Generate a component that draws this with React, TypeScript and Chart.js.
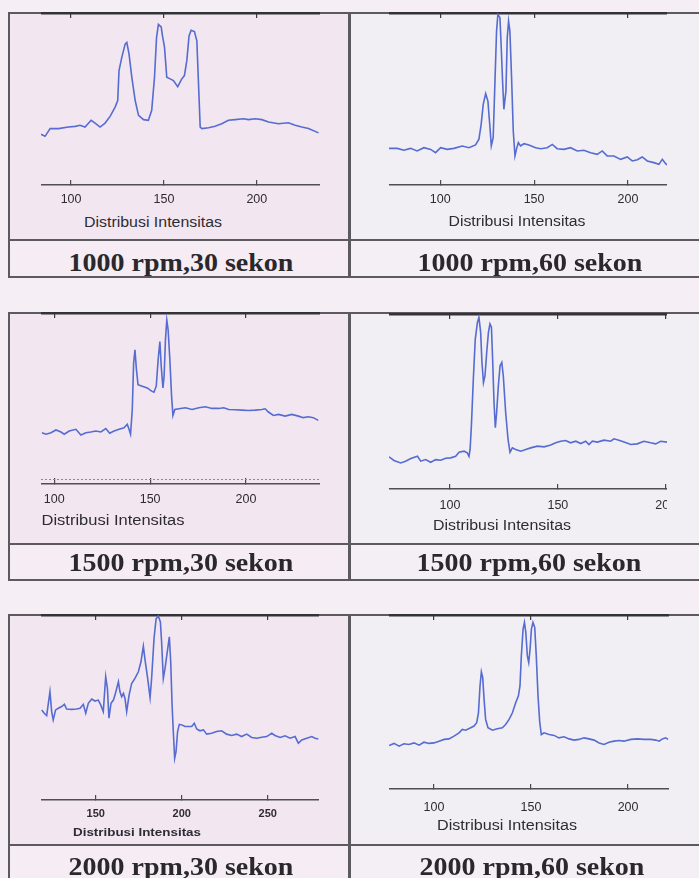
import React, { useEffect, useRef } from "react";
import { Chart, registerables } from "chart.js";
Chart.register(...registerables);

type Pt = [number, number];

// ---------- data ----------
const axisTitle = "Distribusi Intensitas";
const captions = [
  "1000 rpm,30 sekon",
  "1000 rpm,60 sekon",
  "1500 rpm,30 sekon",
  "1500 rpm,60 sekon",
  "2000 rpm,30 sekon",
  "2000 rpm,60 sekon",
];
const ticksMain = [100, 150, 200];
const ticksWide = [150, 200, 250];

const s1000_30: Pt[] = [
  [83.8, 29.5], [86, 28.3], [88.7, 32.8], [93.2, 32.8], [98.6, 33.7], [102.2, 34.1], [104.8, 34.7], [107.5, 33.7],
  [110.8, 37.6], [112.9, 36], [115.6, 33.7], [118.3, 36], [121, 39.9], [123.7, 45.3], [125.1, 49.1], [125.8, 66.5],
  [127.3, 74.2], [129.1, 81.9], [130, 82.9], [131.2, 76.1], [132.7, 62.6], [134.5, 49.1], [136.3, 40.5], [139, 38],
  [141.6, 37.6], [143.4, 43.4], [144.9, 62.6], [146, 85.7], [147, 93.4], [148.5, 91.9], [149.2, 86.7], [150.3, 80],
  [151.5, 62.6], [153.3, 61.7], [155.1, 60.7], [157.4, 57.2], [159.6, 61.7], [161, 63.6], [162.3, 72.3], [163.5, 86.7],
  [164.6, 90], [166.4, 89.2], [167.7, 83.8], [168.6, 58.8], [169.5, 33.7], [170.4, 32.8], [174, 33.3], [177.5, 34.1],
  [181.1, 35.6], [184.7, 37.6], [188.3, 38], [192.8, 38.5], [195.5, 38], [199.1, 38.5], [202.7, 38], [206.3, 36.6],
  [211.6, 35.6], [217, 36.2], [220.6, 34.7], [224.2, 33.7], [227.8, 32.8], [233.2, 30.3],
];

const s1000_60: Pt[] = [
  [72.7, 21.3], [77.1, 21.3], [80.6, 20.2], [84.2, 21.3], [87.7, 19.8], [91.3, 21.7], [94.9, 20.7], [97.5, 18.8],
  [100.2, 21.7], [103.7, 20.7], [107.3, 21.3], [111.7, 22.7], [115.3, 21.7], [118.8, 23.3], [120.6, 26.6], [121.8, 35.3],
  [122.9, 46.9], [124.2, 53.1], [125.4, 48.8], [126.5, 33.3], [127.2, 22.7], [128.2, 27.5], [129.1, 58.5], [130, 89.5],
  [130.7, 99.2], [131.8, 97.3], [132.5, 79.8], [133.2, 60.5], [133.9, 44], [135, 54.7], [135.7, 85.7], [136.4, 95.3],
  [137.1, 89.5], [138, 62.4], [138.9, 31.4], [139.8, 16.9], [140.7, 21.3], [141.6, 24.6], [142.8, 22.7], [144.6, 24],
  [147.2, 23.3], [150.8, 21.7], [153.5, 21.1], [157, 21.7], [159.7, 23.6], [162.3, 21.1], [165.9, 20.7], [169.4, 21.7],
  [173, 19.8], [176.5, 20.2], [180.1, 18.8], [183.6, 17.8], [186.3, 19.8], [188.9, 16.9], [192.5, 16.9], [196.1, 14.9],
  [199.6, 16.3], [202.3, 14], [205, 14.7], [207.6, 16.3], [210.3, 14], [213.8, 13], [216.5, 12], [218.3, 14.9],
  [220.1, 12.4], [220.8, 11.6],
];

const s1500_30: Pt[] = [
  [93.6, 30], [95.7, 29.1], [98.3, 30], [100.9, 31.6], [103.5, 30.4], [105.2, 29.1], [107.8, 31], [111.3, 32],
  [113.9, 28.7], [116.5, 30], [119.1, 30.4], [121.7, 31], [124.3, 30.4], [126.9, 32.4], [128.9, 29.7], [131.2, 31],
  [133.8, 32], [136.4, 32.9], [138.1, 34.9], [139, 32], [139.8, 29.1], [140.7, 43.6], [141.4, 70.7], [142.1, 78.5],
  [142.8, 67.8], [143.7, 58.1], [145.9, 57.2], [148.5, 56.2], [150.8, 54.3], [152, 53.7], [153.2, 57.2], [154.2, 72.7],
  [155.1, 83.3], [155.8, 68.8], [156.7, 56.2], [157.3, 63], [158, 84.3], [158.7, 95.9], [159.4, 90.1], [160.3, 72.7],
  [161.2, 51.4], [161.9, 40.1], [162.9, 43.6], [165, 44], [168.4, 44.6], [171.9, 43.6], [175.4, 44.6], [178.8, 45.2],
  [182.3, 44.2], [185.8, 44.2], [188.4, 44.6], [191, 43.6], [194.4, 43.4], [197.9, 43.2], [201.4, 43], [204.8, 43.2],
  [208.3, 43.6], [210, 44], [211.7, 42.1], [214.3, 40.1], [217, 40.7], [220.4, 39.7], [223.9, 40.7], [227.3, 39.7],
  [229.9, 38.8], [232.5, 39.3], [235.1, 38.8], [237.7, 37.2],
];

const s1500_60: Pt[] = [
  [71.7, 18.4], [74, 16.3], [77.1, 14.9], [79.4, 15.9], [81.8, 17.4], [84.9, 18.7], [86.4, 15.9], [88.7, 16.8],
  [91, 15.3], [93.4, 16.8], [95.7, 16.4], [98, 17.6], [100.3, 17.8], [102.6, 18.7], [104.2, 21], [106.5, 21.6],
  [108, 20.7], [108.8, 18.7], [109.3, 22.6], [109.9, 36], [110.8, 62.7], [111.7, 85.7], [112.7, 95.2], [113.4, 98.1],
  [114.2, 89.5], [114.8, 72.3], [115.5, 60.8], [116.2, 64.6], [117, 78], [117.8, 89.5], [118.5, 94.3], [119.2, 92.4],
  [119.8, 72.3], [120.4, 49.3], [121, 35], [121.6, 43.6], [122.4, 58.9], [123.2, 70.4], [124, 72.3], [124.7, 64.6],
  [125.8, 43.6], [126.9, 28.3], [127.8, 21], [128.9, 23.5], [130.4, 22.6], [132.8, 21.6], [135.1, 22.6], [137.4, 23.5],
  [140.5, 24.5], [143.6, 24.1], [146.7, 25.1], [149, 26.4], [151.3, 27.3], [153.6, 27.7], [155.9, 26.4], [158.3, 27.3],
  [160.6, 26], [162.9, 27.3], [164.4, 25.4], [166, 27.3], [168.3, 26.8], [171.4, 27.9], [174.5, 27.3], [176, 28.7],
  [178.3, 27.9], [180.7, 26.8], [183.8, 25.4], [186.8, 25.8], [189.9, 27.3], [193, 26.4], [195.3, 25.8], [197.7, 27.3],
  [200.6, 26.8],
];

const s2000_30: Pt[] = [
  [118.6, 48.7], [120.1, 46.9], [121.5, 45.6], [123.4, 58.5], [124.4, 47.8], [125.3, 43.3], [126.7, 48.7], [128.3, 49.6],
  [130.2, 50.5], [131.8, 51.7], [133.1, 49.2], [136, 49], [138.9, 49.2], [140.9, 49.6], [142.8, 51.7], [144.2, 46.9],
  [145.7, 52.3], [147.7, 54.6], [149.6, 53.5], [151.5, 54], [152.9, 51.4], [154.4, 47.8], [155.8, 66.6], [156.8, 60.3],
  [157.7, 44.2], [158.9, 52.3], [160.3, 54], [161.2, 56.7], [162.2, 60.3], [163.2, 63.9], [164.1, 58.5], [165.1, 55.8],
  [166.1, 57.6], [167, 55], [168, 47.8], [169.4, 56.7], [170.9, 63], [172.8, 65.7], [174.8, 69.3], [176.3, 74.7],
  [177.7, 83.1], [178.7, 75.6], [180.2, 65.7], [181.6, 55.3], [182.5, 65.7], [183.9, 87.2], [185.1, 98], [186.4, 99.5],
  [187.6, 96.2], [188.3, 85.5], [189.3, 65.7], [190.3, 71.1], [191.6, 80.1], [192.8, 88.2], [193.6, 74.7], [194.4, 51.4],
  [195.1, 37], [195.9, 22.6], [196.7, 26.2], [197.6, 37], [198.6, 40.9], [200, 40.6], [201.9, 39.7], [203.9, 39.7],
  [205.8, 39.7], [207.3, 41.5], [208.7, 38.4], [210.6, 37.4], [212.6, 37.9], [214.5, 35.6], [217.4, 36.1], [220.3, 37],
  [223.2, 37.4], [226.1, 35.6], [229, 34.9], [231.9, 35.6], [234.8, 34.3], [237.8, 35.6], [240.7, 33.8], [243.6, 33.4],
  [246.5, 33.9], [249.4, 34.3], [252.3, 36.1], [254.2, 34.9], [257.2, 33.8], [260.1, 34.7], [263, 33.4], [265.9, 34.3],
  [267.8, 30.7], [269.8, 32.5], [272.7, 33.4], [275.6, 34.3], [277.5, 33.4], [279.4, 33],
];

const s2000_60: Pt[] = [
  [76.8, 25], [79.4, 26.2], [82, 24.6], [84.5, 26], [87.1, 25.6], [89.7, 26.5], [92.3, 25.2], [94.8, 26.9],
  [97.4, 26.2], [100, 26.5], [102.6, 27.5], [105.2, 28.5], [107.7, 28.8], [110.3, 30.4], [112.9, 32.3], [114.6, 34.2],
  [116.3, 33.8], [118.9, 35.2], [120.6, 36.2], [122, 38.1], [122.9, 43.8], [123.7, 59.2], [124.4, 67.3], [125.1, 64],
  [125.8, 51.5], [126.6, 40], [127.8, 35.2], [130.1, 33.8], [132.6, 34.6], [135.2, 35.2], [136.9, 37.1], [138.7, 40],
  [140.4, 43.8], [142.1, 49.6], [143.5, 53.5], [144.3, 59.2], [145, 76.5], [145.9, 91.9], [146.6, 95.8], [147.3, 90],
  [148.1, 76.5], [148.8, 72.7], [149.5, 80.4], [150.2, 91.9], [151, 95.8], [151.9, 92.9], [152.7, 76.5], [153.6, 53.5],
  [154.5, 38.1], [155.3, 31.3], [156.7, 32.3], [159.3, 31.3], [161.9, 30.8], [164.4, 29.4], [167, 30], [169.6, 28.8],
  [172.2, 28.1], [174.7, 28.5], [177.3, 29.4], [179.9, 28.8], [182.5, 28.1], [185.1, 26.5], [187.6, 25.6], [190.2, 26.9],
  [192.8, 27.5], [195.4, 27.9], [197.9, 27.5], [201.4, 28.5], [204.8, 28.8], [208.2, 28.5], [211.7, 28.5], [214.3, 28.1],
  [216, 27.5], [217.7, 28.8], [219.4, 29.4], [220.6, 28.5],
];

// ---------- layout / style ----------
const SANS = "'Liberation Sans', Arial, sans-serif";
const SERIF = "'Liberation Serif', 'Times New Roman', serif";
const LINE = "#566cd0";
const PAGE_BG = "#f6eef5";
const BOX_LINE = "#5c5a5e";

type PanelCfg = {
  series: Pt[];
  ticks: number[];
  min: number;
  max: number;
  left: number;
  right: number;
  top: number;
  axisY: number;
  tickOffset: number;
  tickSize: number;
  tickBold: boolean;
  tickLen: number;
  guide?: number;
  titleX: number;
  titleY: number;
  titleW: number;
  capX: number;
  capY: number;
  caption: string;
};

const panels: PanelCfg[] = [
  { series: s1000_30, ticks: ticksMain, min: 83.8, max: 234, left: 41, right: 320, top: 13, axisY: 185, tickOffset: 15, tickSize: 12.5, tickBold: false, tickLen: -5, titleX: 152.5, titleY: 221.5, titleW: 138, capX: 180.8, capY: 263.3, caption: captions[0] },
  { series: s1000_60, ticks: ticksMain, min: 72.7, max: 220.8, left: 389, right: 667, top: 13, axisY: 185, tickOffset: 15, tickSize: 12.5, tickBold: false, tickLen: -5, titleX: 517, titleY: 220.7, titleW: 137, capX: 529.8, capY: 263.3, caption: captions[1] },
  { series: s1500_30, ticks: ticksMain, min: 93.1, max: 238.6, left: 41, right: 320, top: 313, axisY: 484, tickOffset: 16, tickSize: 12.5, tickBold: false, tickLen: -6, guide: 2.4, titleX: 113.3, titleY: 520, titleW: 143, capX: 180.8, capY: 563.3, caption: captions[2] },
  { series: s1500_60, ticks: ticksMain, min: 71.7, max: 200.6, left: 389, right: 667, top: 314, axisY: 489, tickOffset: 17, tickSize: 12.5, tickBold: false, tickLen: -5, titleX: 501.5, titleY: 525, titleW: 138, capX: 529.3, capY: 563.3, caption: captions[3] },
  { series: s2000_30, ticks: ticksWide, min: 118.2, max: 279.8, left: 41, right: 319, top: 615, axisY: 800, tickOffset: 14, tickSize: 11, tickBold: true, tickLen: -5, titleX: 137, titleY: 831.7, titleW: 128, capX: 180.8, capY: 866.7, caption: captions[4] },
  { series: s2000_60, ticks: ticksMain, min: 76.8, max: 221.1, left: 389, right: 669, top: 615, axisY: 789, tickOffset: 19, tickSize: 12.5, tickBold: false, tickLen: -5, titleX: 507, titleY: 825, titleW: 140, capX: 531.5, capY: 866.5, caption: captions[5] },
];

const rows = [
  { top: 12, capTop: 240, bottom: 278 },
  { top: 312, capTop: 544, bottom: 581 },
  { top: 614, capTop: 845, bottom: 910 },
];
const cols = [
  { left: 8, width: 342, bg: "#f2e6f1", capBg: "#f5ecf4" },
  { left: 349, width: 400, bg: "#f1eef4", capBg: "#f4eff5" },
];

const PAD_TOP = 3;

function PanelChart({ p }: { p: PanelCfg }) {
  const ref = useRef<HTMLCanvasElement | null>(null);
  const labelSpace = p.tickOffset + 12;
  const height = p.axisY - p.top + PAD_TOP + labelSpace;
  const width = p.right - p.left;

  useEffect(() => {
    if (!ref.current) return;
    const tl = p.tickLen;
    const pad = p.tickOffset - tl - p.tickSize * 0.6;
    const setTicks = (s: any) => {
      s.ticks = p.ticks.map((v) => ({ value: v }));
    };
    const yScale: any = p.guide !== undefined
      ? {
          display: true,
          min: 0,
          max: 100,
          afterBuildTicks: (s: any) => { s.ticks = [{ value: p.guide }]; },
          afterFit: (s: any) => { s.width = 0; },
          ticks: { display: false },
          grid: { drawTicks: false, color: "#8a8890", lineWidth: 1 },
          border: { display: false, dash: [2, 2] },
        }
      : { display: false, min: 0, max: 100 };

    const chart = new Chart(ref.current, {
      type: "line",
      data: {
        datasets: [
          {
            data: p.series.map(([x, y]) => ({ x, y })),
            xAxisID: "x",
            yAxisID: "y",
            borderColor: LINE,
            borderWidth: 1.6,
            pointRadius: 0,
            tension: 0,
            fill: false,
          },
        ],
      },
      options: {
        animation: false,
        responsive: true,
        maintainAspectRatio: false,
        events: [],
        layout: { padding: { top: PAD_TOP, left: 0, right: 0, bottom: 0 } },
        plugins: { legend: { display: false }, tooltip: { enabled: false }, title: { display: false } },
        scales: {
          x: {
            type: "linear",
            position: "bottom",
            bounds: "data",
            min: p.min,
            max: p.max,
            afterBuildTicks: setTicks,
            afterFit: (s: any) => {
              s.height = labelSpace;
              s.paddingLeft = 0;
              s.paddingRight = 0;
            },
            ticks: {
              autoSkip: false,
              maxRotation: 0,
              minRotation: 0,
              padding: pad,
              color: "#2e2c31",
              font: { family: SANS, size: p.tickSize, weight: p.tickBold ? "bold" : "normal" },
              callback: (v: any) => String(v),
            },
            grid: { drawOnChartArea: false, drawTicks: true, tickLength: tl, color: "#4a494d", lineWidth: 1.2 },
            border: { display: true, color: "#4f4e52", width: 1.6 },
          },
          xTop: {
            type: "linear",
            position: "top",
            bounds: "data",
            min: p.min,
            max: p.max,
            afterBuildTicks: setTicks,
            afterFit: (s: any) => {
              s.height = 0;
              s.paddingLeft = 0;
              s.paddingRight = 0;
            },
            ticks: { display: false },
            grid: { drawOnChartArea: false, drawTicks: true, tickLength: -5, color: "#3a393d", lineWidth: 1.2 },
            border: { display: true, color: "#333236", width: 2.6 },
          },
          y: yScale,
        },
      } as any,
    });
    return () => chart.destroy();
  }, []);

  return (
    <div
      style={{
        position: "absolute",
        left: p.left,
        top: p.top - PAD_TOP,
        width,
        height,
      }}
    >
      <canvas ref={ref} />
    </div>
  );
}

function TitleText({ p }: { p: PanelCfg }) {
  const bold = p.tickBold;
  const size = bold ? 11.5 : 14;
  const natural = (bold ? 9.558 : 8.669) * size;
  return (
    <div
      style={{
        position: "absolute",
        left: p.titleX - 120,
        width: 240,
        top: p.titleY - 10,
        height: 20,
        lineHeight: "20px",
        textAlign: "center",
        fontFamily: SANS,
        fontSize: size,
        fontWeight: bold ? "bold" : "normal",
        color: "#2e2c33",
        transform: `scaleX(${p.titleW / natural})`,
        transformOrigin: "center",
        whiteSpace: "nowrap",
      }}
    >
      {axisTitle}
    </div>
  );
}

function CaptionText({ p }: { p: PanelCfg }) {
  return (
    <div
      style={{
        position: "absolute",
        left: p.capX - 170,
        width: 340,
        top: p.capY - 16,
        height: 32,
        lineHeight: "32px",
        textAlign: "center",
        fontFamily: SERIF,
        fontSize: 25,
        fontWeight: "bold",
        color: "#2a282c",
        transform: "scaleX(1.12)",
        transformOrigin: "center",
        whiteSpace: "nowrap",
      }}
    >
      {p.caption}
    </div>
  );
}

export default function App() {
  return (
    <div
      style={{
        position: "absolute",
        left: 0,
        top: 0,
        width: 699,
        height: 878,
        overflow: "hidden",
        background: PAGE_BG,
      }}
    >
      {rows.map((r, ri) =>
        cols.map((c, ci) => (
          <React.Fragment key={`${ri}-${ci}`}>
            <div
              style={{
                position: "absolute",
                left: c.left,
                top: r.top,
                width: c.width,
                height: r.bottom - r.top,
                boxSizing: "border-box",
                border: `2px solid ${BOX_LINE}`,
                background: c.bg,
              }}
            />
            <div
              style={{
                position: "absolute",
                left: c.left + 2,
                top: r.capTop + 1,
                width: c.width - 4,
                height: r.bottom - r.capTop - 3,
                background: c.capBg,
              }}
            />
            <div
              style={{
                position: "absolute",
                left: c.left,
                top: r.capTop - 1,
                width: c.width,
                height: 2,
                background: BOX_LINE,
              }}
            />
          </React.Fragment>
        ))
      )}
      {panels.map((p, i) => (
        <React.Fragment key={i}>
          <PanelChart p={p} />
          <TitleText p={p} />
          <CaptionText p={p} />
        </React.Fragment>
      ))}
    </div>
  );
}
